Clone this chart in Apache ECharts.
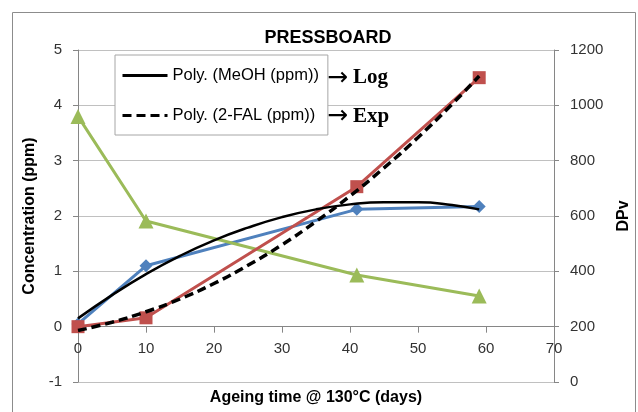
<!DOCTYPE html>
<html>
<head>
<meta charset="utf-8">
<script src="https://cdn.jsdelivr.net/npm/echarts@6/dist/echarts.min.js"></script>
<style>
  html, body { margin: 0; padding: 0; background: #fff; }
  #chart { width: 638px; height: 412px; }
</style>
</head>
<body>
<div id="chart"></div>
<script>
  // measured points (days)
  var days = [0, 10, 41, 59]
  var meoh = [0.05, 1.1, 2.12, 2.17]
  var fal = [0, 0.16, 2.53, 4.5]
  var dpv = [960, 582, 387, 311]

  // trend lines
  var trendDays = [0, 5, 10, 15, 20, 25, 30, 35, 40, 45, 50, 55, 59]
  var meohTrend = [0.15, 0.57, 0.95, 1.28, 1.56, 1.79, 1.98, 2.12, 2.21, 2.25, 2.25, 2.2, 2.12]
  var falTrend = [-0.07, 0.08, 0.27, 0.5, 0.78, 1.11, 1.48, 1.9, 2.36, 2.87, 3.42, 4.02, 4.53]

  var xTicks = { min: 0, max: 70, step: 10 }
  var leftTicks = { min: -1, max: 5, step: 1 }
  var rightTicks = { min: 0, max: 1200, step: 200 }

  function pairs(xs, ys) {
    return xs.map(function (x, i) { return [x, ys[i]] })
  }

  var font = 'Liberation Sans'
  var gridColor = '#c0c0c0'
  var axisColor = '#868686'
  var labelStyle = { fontFamily: font, fontSize: 15, color: '#333' }
  var nameStyle = { fontFamily: font, fontWeight: 'bold', fontSize: 16, color: '#000' }

  var chart = echarts.init(document.getElementById('chart'), null, { renderer: 'canvas' })

  chart.setOption({
    animation: false,
    title: {
      text: 'PRESSBOARD',
      left: 323, top: 24, textAlign: 'center',
      textStyle: { fontFamily: font, fontWeight: 'bold', fontSize: 18, color: '#000' }
    },
    legend: {
      data: ['Poly. (MeOH (ppm))', 'Poly. (2-FAL (ppm))'],
      orient: 'vertical',
      left: 115, top: 55,
      padding: [12, 9, 11, 6],
      itemWidth: 45, itemHeight: 16, itemGap: 23,
      itemStyle: { opacity: 0 },
      lineStyle: { width: 3 },
      backgroundColor: '#fff',
      borderColor: '#a6a6a6', borderWidth: 1,
      textStyle: { fontFamily: font, fontSize: 16.5, color: '#000' }
    },
    graphic: [
      {
        type: 'rect', silent: true, z: -10,
        shape: { x: 12.5, y: 12.5, width: 623, height: 410 },
        style: { fill: 'none', stroke: '#8c8c8c', lineWidth: 1 }
      },
      {
        type: 'text', left: 327, top: 66,
        style: { text: '→', fontFamily: 'DejaVu Sans', fontSize: 25, fill: '#000' }
      },
      {
        type: 'text', left: 353, top: 67,
        style: { text: 'Log', fontFamily: 'Liberation Serif', fontWeight: 'bold', fontSize: 21, fill: '#000' }
      },
      {
        type: 'text', left: 327, top: 104,
        style: { text: '→', fontFamily: 'DejaVu Sans', fontSize: 25, fill: '#000' }
      },
      {
        type: 'text', left: 353, top: 106,
        style: { text: 'Exp', fontFamily: 'Liberation Serif', fontWeight: 'bold', fontSize: 21, fill: '#000' }
      }
    ],
    grid: { left: 78, right: 84, top: 50, bottom: 30, outerBoundsMode: 'none', containLabel: false },
    xAxis: {
      type: 'value',
      min: xTicks.min, max: xTicks.max, interval: xTicks.step,
      name: 'Ageing time @ 130°C (days)',
      nameLocation: 'middle', nameGap: 8, nameMoveOverlap: false,
      nameTextStyle: nameStyle,
      axisLine: { onZero: true, onZeroAxisIndex: 0, lineStyle: { color: axisColor, width: 1 } },
      axisTick: { show: true, length: 6, lineStyle: { color: axisColor } },
      axisLabel: Object.assign({ margin: -41 }, labelStyle),
      splitLine: { show: false }
    },
    yAxis: [
      {
        type: 'value',
        min: leftTicks.min, max: leftTicks.max, interval: leftTicks.step,
        name: 'Concentration (ppm)',
        nameLocation: 'middle', nameGap: 38, nameRotate: 90,
        nameTextStyle: nameStyle,
        axisLine: { show: true, onZero: false, lineStyle: { color: axisColor } },
        axisTick: { show: true, length: 5, lineStyle: { color: axisColor } },
        axisLabel: Object.assign({ margin: 16 }, labelStyle),
        splitLine: { show: true, lineStyle: { color: gridColor, width: 1 } }
      },
      {
        type: 'value',
        min: rightTicks.min, max: rightTicks.max, interval: rightTicks.step,
        name: 'DPv',
        nameLocation: 'middle', nameGap: 62, nameRotate: 90,
        nameTextStyle: nameStyle,
        axisLine: { show: true, onZero: false, lineStyle: { color: axisColor } },
        axisTick: { show: true, length: 5, lineStyle: { color: axisColor } },
        axisLabel: Object.assign({ margin: 16, formatter: function (v) { return String(v) } }, labelStyle),
        splitLine: { show: false }
      }
    ],
    series: [
      {
        name: 'MeOH (ppm)', type: 'line', yAxisIndex: 0,
        data: pairs(days, meoh),
        symbol: 'diamond', symbolSize: 13,
        lineStyle: { color: '#4f81bd', width: 3 },
        itemStyle: { color: '#4f81bd' },
        z: 3
      },
      {
        name: 'DPv', type: 'line', yAxisIndex: 1,
        data: pairs(days, dpv),
        symbol: 'triangle', symbolSize: 15,
        lineStyle: { color: '#9bbb59', width: 3 },
        itemStyle: { color: '#9bbb59' },
        z: 3
      },
      {
        name: '2-FAL (ppm)', type: 'line', yAxisIndex: 0,
        data: pairs(days, fal),
        symbol: 'rect', symbolSize: 13,
        lineStyle: { color: '#c0504d', width: 3 },
        itemStyle: { color: '#c0504d' },
        z: 4
      },
      {
        name: 'Poly. (MeOH (ppm))', type: 'line', yAxisIndex: 0,
        data: pairs(trendDays, meohTrend),
        smooth: true, showSymbol: false, symbol: 'none',
        lineStyle: { color: '#000', width: 2.5 },
        itemStyle: { color: '#000' },
        z: 5
      },
      {
        name: 'Poly. (2-FAL (ppm))', type: 'line', yAxisIndex: 0,
        data: pairs(trendDays, falTrend),
        smooth: true, showSymbol: false, symbol: 'none',
        lineStyle: { color: '#000', width: 3.5, type: [9, 5] },
        itemStyle: { color: '#000' },
        z: 5
      }
    ]
  })
</script>
</body>
</html>
